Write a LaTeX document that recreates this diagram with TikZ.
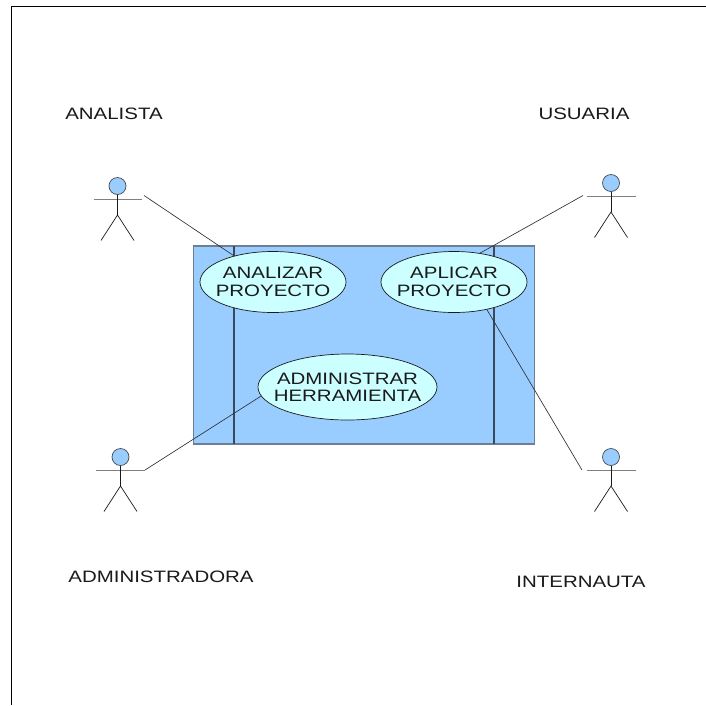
\documentclass[tikz,border=0pt]{standalone}
\usepackage{fontspec}
\setmainfont[FakeStretch=1.24]{Liberation Sans}
\usetikzlibrary{shapes.geometric}
\definecolor{sysblue}{HTML}{99CCFF}
\definecolor{ucfill}{HTML}{CCFFFF}
\definecolor{ink}{HTML}{1A1A1A}
\definecolor{laneink}{HTML}{3A4A5C}
\definecolor{boxedge}{HTML}{6E7F94}
\tikzset{
  x=1pt,y=-1pt,
  usecase/.style={ellipse,draw=ink,fill=ucfill,line width=0.7pt,inner xsep=-30pt,inner ysep=-14pt,align=center,font=\fontsize{16.5}{17.5}\selectfont,text=ink},
  lbl/.style={inner sep=0pt,font=\fontsize{16.5}{18}\selectfont,text=ink},
  assoc/.style={draw=ink!90,line width=0.65pt},
  limb/.style={draw=ink,line width=0.7pt},
  armline/.style={draw=gray,line width=0.9pt},
  headc/.style={circle,draw=ink!80,fill=sysblue,line width=0.7pt,minimum size=17pt,inner sep=0pt},
  pagefr/.style={draw=black,line width=1pt},
  sysbox/.style={draw=boxedge,fill=sysblue,line width=1.2pt},
  lane/.style={draw=laneink,line width=1.1pt}
}
\newcommand{\actor}[5]{% name, head x, head y, half arm, hand coordinate offset
  \node[headc] (#1) at (#2,#3) {};
  \coordinate (#1arml) at (#2-#4,#3+13);
  \coordinate (#1armr) at (#2+#4,#3+13);
  \coordinate (#1hip) at (#2,#3+29);
  \coordinate (#1legl) at (#2-16.5,#3+54.5);
  \coordinate (#1legr) at (#2+16.5,#3+54.5);
  \draw[armline] (#1arml) -- (#1armr);
  \draw[limb] (#1) -- (#1hip);
  \draw[limb] (#1legl) -- (#1hip) -- (#1legr);
}
\begin{document}
\begin{tikzpicture}
\useasboundingbox (0,0) rectangle (706,705);
\fill[white] (0,0) rectangle (706,705);
\coordinate (pgA) at (706,6.5);
\coordinate (pgB) at (11.5,6.5);
\coordinate (pgC) at (11.5,705);
\draw[pagefr] (pgA) -- (pgB) -- (pgC);
% system box
\draw[sysbox] (193.5,246) rectangle (534.5,444);
\coordinate (l1t) at (234,246);
\coordinate (l1b) at (234,444);
\coordinate (l2t) at (494,246);
\coordinate (l2b) at (494,444);
\draw[lane] (l1t) -- (l1b);
\draw[lane] (l2t) -- (l2b);
% use cases
\node[usecase,minimum width=146pt,minimum height=61pt] (uc1) at (273,282) {ANALIZAR\\PROYECTO};
\node[usecase,minimum width=146pt,minimum height=61pt] (uc2) at (454,282) {APLICAR\\PROYECTO};
\node[usecase,minimum width=179pt,minimum height=66pt] (uc3) at (347.5,387) {ADMINISTRAR\\HERRAMIENTA};
% actors
\actor{an}{117.5}{186}{24}{}
\actor{us}{611}{183}{24.5}{}
\actor{ad}{120.5}{457}{24.5}{}
\actor{in}{611}{457}{24.5}{}
% connector ends
\coordinate (anh) at (144,195.5);
\coordinate (ush) at (583,195.5);
\coordinate (adh) at (145,470);
\coordinate (inh) at (582,470);
\draw[assoc] (anh) -- (uc1);
\draw[assoc] (ush) -- (uc2.48);
\draw[assoc] (adh) -- (uc3.186);
\draw[assoc] (inh) -- (uc2.-40.5);
% labels
\node[lbl] (t1) at (114,113.5) {ANALISTA};
\node[lbl] (t2) at (584,113.5) {USUARIA};
\node[lbl] (t3) at (161,577) {ADMINISTRADORA};
\node[lbl] (t4) at (581,581.5) {INTERNAUTA};
\end{tikzpicture}
\end{document}
